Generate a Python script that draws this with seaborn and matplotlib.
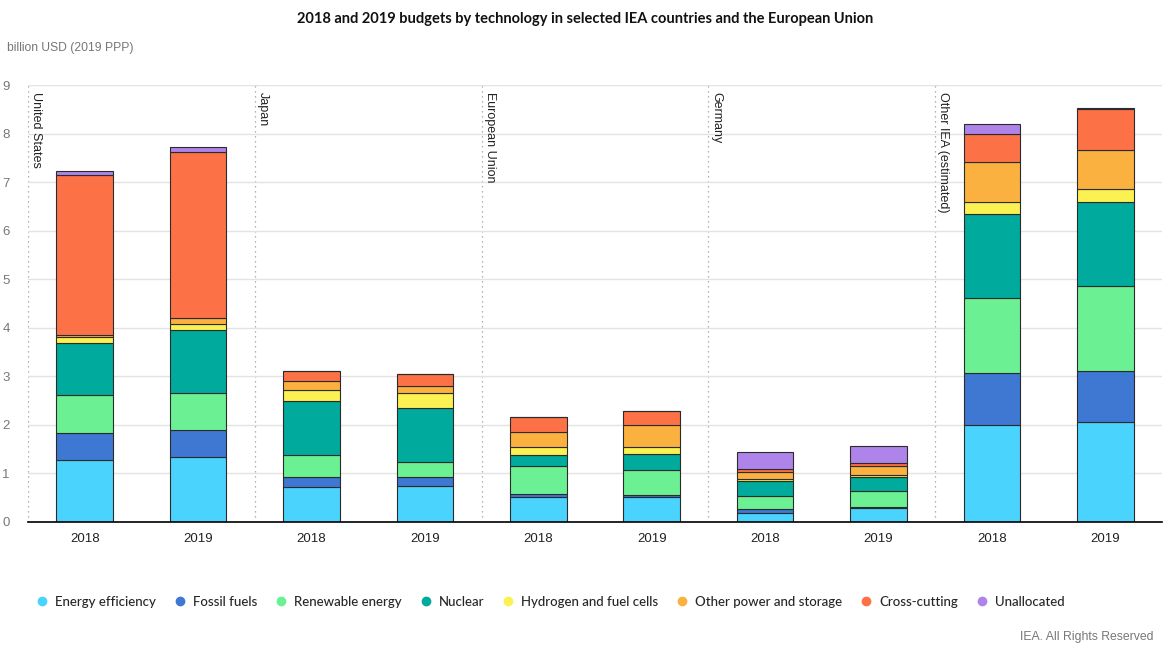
import matplotlib
matplotlib.use("Agg")
import matplotlib.pyplot as plt
from matplotlib.lines import Line2D
from matplotlib.ticker import FixedLocator
import seaborn as sns
import pandas as pd
import numpy as np

groups = ["United States", "Japan", "European Union", "Germany", "Other IEA (estimated)"]
years = ["2018", "2019"]
technologies = ["Energy efficiency", "Fossil fuels", "Renewable energy", "Nuclear",
                "Hydrogen and fuel cells", "Other power and storage", "Cross-cutting", "Unallocated"]

# values per technology, order: US18, US19, JP18, JP19, EU18, EU19, DE18, DE19, OT18, OT19
energy_efficiency = [1.27, 1.33, 0.73, 0.75, 0.51, 0.51, 0.18, 0.28, 1.99, 2.05]
fossil_fuels      = [0.57, 0.57, 0.19, 0.17, 0.06, 0.04, 0.08, 0.02, 1.07, 1.06]
renewable_energy  = [0.78, 0.75, 0.47, 0.32, 0.58, 0.53, 0.27, 0.33, 1.56, 1.76]
nuclear           = [1.07, 1.31, 1.11, 1.11, 0.22, 0.33, 0.32, 0.29, 1.73, 1.73]
hydrogen          = [0.12, 0.12, 0.21, 0.31, 0.17, 0.14, 0.03, 0.05, 0.25, 0.25]
other_power       = [0.05, 0.12, 0.20, 0.15, 0.31, 0.45, 0.14, 0.19, 0.81, 0.82]
cross_cutting     = [3.28, 3.43, 0.20, 0.23, 0.31, 0.29, 0.08, 0.06, 0.59, 0.83]
unallocated       = [0.09, 0.09, 0.00, 0.00, 0.00, 0.00, 0.35, 0.35, 0.20, 0.02]

colors = ["#4ad3fd", "#3e78d2", "#6bf193", "#00aa9c", "#fbf152", "#fbb13f", "#fd7147", "#ae83ea"]

series = [energy_efficiency, fossil_fuels, renewable_energy, nuclear,
          hydrogen, other_power, cross_cutting, unallocated]

cats = [f"{g} {y}" for g in groups for y in years]
xlabels = [y for g in groups for y in years]

sns.set_theme(style="white")
plt.rcParams["font.family"] = ["Liberation Sans", "DejaVu Sans"]

fig = plt.figure(figsize=(11.64, 6.58), dpi=100)
ax = fig.add_axes([28/1164, 1-522/658, (1162-28)/1164, (522-85)/658])

bottom = np.zeros(len(cats))
for name, vals, col in zip(technologies, series, colors):
    df = pd.DataFrame({"cat": cats, "val": vals})
    sns.barplot(data=df, x="cat", y="val", order=cats, color=col, width=0.5,
                bottom=bottom.copy(), edgecolor="#2b2b2b", linewidth=0.8,
                saturation=1, ax=ax)
    bottom += np.array(vals)

ax.set_xlim(-0.5, len(cats) - 0.5)
ax.set_ylim(0, 9)
ax.set_yticks(range(0, 10))
ax.set_yticklabels([str(i) for i in range(0, 10)], color="#777777", fontsize=9.5)
ax.yaxis.grid(True, color="#e3e3e3", linewidth=1)
ax.set_axisbelow(True)
ax.tick_params(axis="y", length=0, pad=13)
ax.set_xticks(range(len(cats)))
ax.set_xticklabels(xlabels, fontsize=9.5, color="#222222")
ax.tick_params(axis="x", which="major", length=0, pad=8)
ax.xaxis.set_minor_locator(FixedLocator(np.arange(-0.5, len(cats), 1.0)))
ax.tick_params(axis="x", which="minor", length=10, width=1, color="#000000", direction="out")
ax.set_xlabel("")
ax.set_ylabel("")
for s in ["top", "right", "left"]:
    ax.spines[s].set_visible(False)
ax.spines["bottom"].set_color("#000000")
ax.spines["bottom"].set_linewidth(1.2)

for i, g in enumerate(groups):
    xb = -0.5 + 2 * i
    ax.axvline(xb, color="#9a9a9a", linestyle=(0, (1, 3)), linewidth=0.9, zorder=0.5)
    ax.text(xb + 0.02, 8.85, g, rotation=270, ha="left", va="top", fontsize=9,
            color="#222222")

fig.text(0.503, 0.971, "2018 and 2019 budgets by technology in selected IEA countries and the European Union",
         ha="center", va="center", fontsize=10.5, fontweight="bold", family=["Lato", "DejaVu Sans"],
         color="#111111")
fig.text(7/1164, 1-48/658, "billion USD (2019 PPP)", ha="left", va="center", fontsize=8.7,
         color="#777777")

handles = [Line2D([0], [0], marker="o", linestyle="", markersize=6, markerfacecolor=c,
                  markeredgecolor=c) for c in colors]
leg = fig.legend(handles, technologies, loc="center", bbox_to_anchor=(550/1164, 1-602/658),
                 ncol=8, frameon=False, handlelength=1.0, handletextpad=0.5, columnspacing=1.3,
                 prop={"family": ["Lato", "DejaVu Sans"], "size": 9.5, "weight": "medium"})
fig.text(1153/1164, 1-637/658, "IEA. All Rights Reserved", ha="right", va="center", fontsize=8.8,
         color="#777777")

fig.savefig("out.png", dpi=100)
